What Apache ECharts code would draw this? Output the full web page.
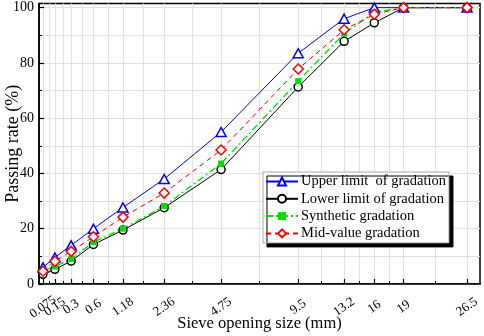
<!DOCTYPE html>
<html><head><meta charset="utf-8">
<script src="https://cdn.jsdelivr.net/npm/echarts@6/dist/echarts.min.js"></script>
<style>html,body{margin:0;padding:0;background:#fff}#c{width:484px;height:336px}</style>
</head><body><div id="c"></div>
<script>
// Sieve sizes (mm) and tick labels
const sieveSizes = [0.075, 0.15, 0.3, 0.6, 1.18, 2.36, 4.75, 9.5, 13.2, 16, 19, 26.5];
const sieveLabels = ['0.075', '0.15', '0.3', '0.6', '1.18', '2.36', '4.75', '9.5', '13.2', '16', '19', '26.5'];
// Passing rate (%)
const upperLimit = [6.0, 9.6, 14.0, 20.0, 27.7, 38.0, 55.0, 83.5, 96.0, 100, 100, 100];
const lowerLimit = [3.5, 5.3, 8.3, 14.3, 19.5, 27.6, 41.4, 71.3, 87.8, 94.5, 100, 100];
const synthetic  = [4.8, 6.3, 9.0, 15.2, 20.0, 28.2, 43.6, 73.4, 90.6, 98.3, 100, 100];
const midValue   = [4.6, 8.2, 11.8, 17.1, 24.2, 32.9, 48.5, 77.8, 92.0, 97.6, 100, 100];
const yTicks = [0, 20, 40, 60, 80, 100];
const yMinorTicks = [10, 30, 50, 70, 90];

const EXP = 0.45;               // power-0.45 gradation scale
const tx = v => Math.pow(v, EXP);
const xMajor = sieveSizes.map(tx);
const xMinor = xMajor.slice(1).map((t, i) => (t + xMajor[i]) / 2);
const xEven = xMajor.filter((t, i) => i % 2 === 0);
const xOdd = xMajor.filter((t, i) => i % 2 === 1);
const labelOf = {};
xMajor.forEach((t, i) => { labelOf[t.toFixed(6)] = sieveLabels[i]; });
const pairs = arr => arr.map((v, i) => [xMajor[i], v]);

const FONT = '"Liberation Serif", "Times New Roman", serif';
const gridLine = { show: true, lineStyle: { color: '#e2e2e2', width: 1 } };
const xLabelBase = { rotate: 35, align: 'center', verticalAlign: 'middle', margin: 23,
  showMinLabel: true, showMaxLabel: true, hideOverlap: false,
  fontFamily: FONT, fontSize: 13, color: '#000',
  formatter: v => labelOf[v.toFixed(6)] || '' };

const chart = echarts.init(document.getElementById('c'), null, { renderer: 'canvas' });
chart.setOption({
  animation: false,
  backgroundColor: '#fff',
  grid: { left: 39, right: 4, top: 3.5, bottom: 52, containLabel: false, outerBoundsMode: 'none',
    show: true, borderColor: '#000', borderWidth: 1.5, backgroundColor: 'transparent' },
  xAxis: [{
    type: 'value', min: 0.2737, max: 4.494, position: 'bottom',
    name: 'Sieve opening size (mm)', nameLocation: 'middle', nameGap: 31, nameMoveOverlap: false,
    nameTextStyle: { fontFamily: FONT, fontSize: 16.5, color: '#000' },
    axisLine: { show: true, onZero: false, lineStyle: { color: '#000', width: 1.5 } },
    axisTick: { show: true, inside: true, length: 5, customValues: xMajor, lineStyle: { color: '#000', width: 1.2 } },
    axisLabel: Object.assign({ customValues: xEven }, xLabelBase),
    splitLine: gridLine
  }, {
    type: 'value', min: 0.2737, max: 4.494, position: 'bottom',
    axisLine: { show: false, onZero: false },
    axisTick: { show: true, inside: true, length: 3, customValues: xMinor, lineStyle: { color: '#000', width: 1 } },
    axisLabel: Object.assign({ customValues: xOdd }, xLabelBase),
    splitLine: gridLine
  }],
  yAxis: [{
    type: 'value', min: 0, max: 101.5, position: 'left',
    name: 'Passing rate (%)', nameLocation: 'middle', nameGap: 17, nameRotate: 90, nameMoveOverlap: false,
    nameTextStyle: { fontFamily: FONT, fontSize: 18, color: '#000' },
    axisLine: { show: true, onZero: false, lineStyle: { color: '#000', width: 1.5 } },
    axisTick: { show: true, inside: true, length: 5, customValues: yTicks, lineStyle: { color: '#000', width: 1.2 } },
    axisLabel: { customValues: yTicks, margin: 5, fontFamily: FONT, fontSize: 14, color: '#000' },
    splitLine: gridLine
  }, {
    type: 'value', min: 0, max: 101.5, position: 'left',
    axisLine: { show: false, onZero: false },
    axisTick: { show: true, inside: true, length: 3, customValues: yMinorTicks, lineStyle: { color: '#000', width: 1 } },
    axisLabel: { show: false },
    splitLine: gridLine
  }],
  legend: {
    orient: 'vertical', left: 263, top: 172,
    itemWidth: 32, itemHeight: 10, itemGap: 2.3,
    padding: [2, 3, 2, 2],
    backgroundColor: '#fff', borderColor: '#aaa', borderWidth: 1,
    shadowColor: '#000', shadowOffsetX: 4, shadowOffsetY: 4, shadowBlur: 0,
    textStyle: { fontFamily: FONT, fontSize: 14.5, color: '#000', padding: [0, 0, 0, -2] },
    data: ['Upper limit  of gradation', 'Lower limit of gradation', 'Synthetic gradation', 'Mid-value gradation']
  },
  series: [{
    name: 'Upper limit  of gradation', type: 'line', data: pairs(upperLimit),
    symbol: 'triangle', symbolSize: [10, 9],
    lineStyle: { color: '#0000ff', width: 1 },
    itemStyle: { color: '#fff', borderColor: '#0000ff', borderWidth: 1.5 }
  }, {
    name: 'Lower limit of gradation', type: 'line', data: pairs(lowerLimit),
    symbol: 'circle', symbolSize: 8,
    lineStyle: { color: '#000', width: 1 },
    itemStyle: { color: '#fff', borderColor: '#000', borderWidth: 1.5 }
  }, {
    name: 'Synthetic gradation', type: 'line', data: pairs(synthetic),
    symbol: 'rect', symbolSize: 6,
    lineStyle: { color: '#00e000', width: 1.3, type: [7, 3, 2, 3] },
    itemStyle: { color: '#00e000', borderColor: '#00e000', borderWidth: 0 }
  }, {
    name: 'Mid-value gradation', type: 'line', data: pairs(midValue),
    symbol: 'diamond', symbolSize: 10,
    lineStyle: { color: '#ff0000', width: 1, type: [5, 4] },
    itemStyle: { color: '#fff', borderColor: '#ff0000', borderWidth: 1.5 }
  }]
});
</script></body></html>
